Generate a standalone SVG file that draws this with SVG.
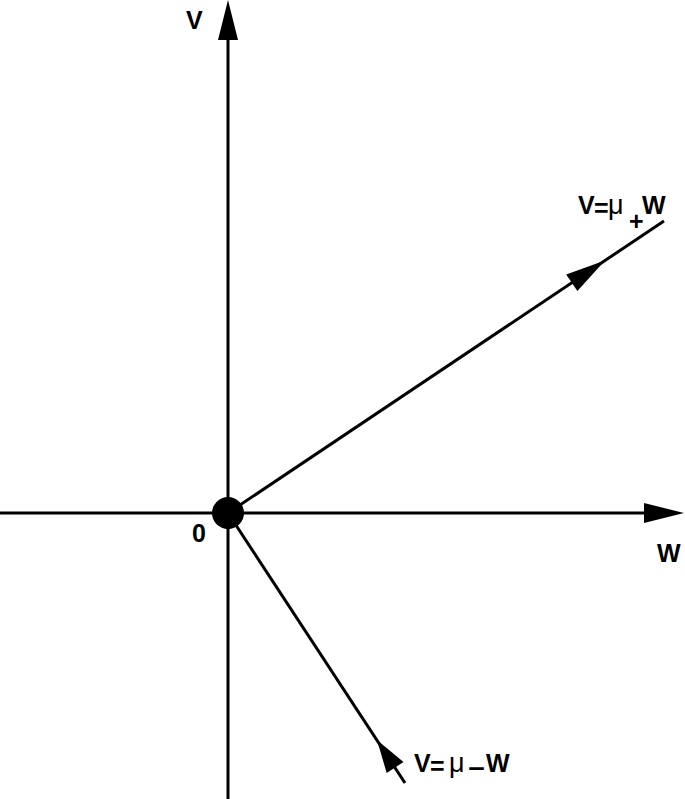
<svg xmlns="http://www.w3.org/2000/svg" width="685" height="799" viewBox="0 0 685 799">
<style>
.ln{stroke:#000;stroke-width:3;fill:none}
.ah{fill:#000;stroke:none}
.lb{font-family:"Liberation Sans",Arial,sans-serif;font-weight:bold;font-size:25px;fill:#000}
.mu{font-family:"Liberation Sans",Arial,sans-serif;font-weight:normal;font-size:27px;fill:#000}
</style>
<rect width="685" height="799" fill="#fff"/>
<g id="connectors">
<line class="ln" x1="228" y1="799" x2="228" y2="30"/>
<polygon class="ah" points="228,0 218,40 238,40"/>
<line class="ln" x1="0" y1="513" x2="650" y2="513"/>
<polygon class="ah" points="684,513 644,503 644,523"/>
<line class="ln" x1="228" y1="513" x2="664" y2="221"/>
<polygon class="ah" points="605,260.5 577.4,291 566.2,274.4"/>
<line class="ln" x1="228" y1="513" x2="405" y2="783"/>
<polygon class="ah" points="377,740 403.5,762.1 386.7,773.1"/>
</g>
<g id="origin">
<circle cx="228" cy="513" r="16" fill="#000"/>
<text class="lb" x="192" y="542">0</text>
</g>
<g id="axis-v">
<text class="lb" x="186" y="29">V</text>
</g>
<g id="axis-w">
<text class="lb" x="657" y="562">W</text>
</g>
<g id="label-plus">
<text class="lb" x="578" y="214">V</text>
<text class="lb" x="594" y="217">=</text>
<text class="mu" x="608" y="214">μ</text>
<text class="lb" x="629" y="230">+</text>
<text class="lb" x="642" y="214">W</text>
</g>
<g id="label-minus">
<text class="lb" x="414" y="772">V</text>
<text class="lb" x="430" y="775">=</text>
<text class="mu" x="449" y="772">μ</text>
<text class="lb" x="468" y="777" font-size="28" textLength="17" lengthAdjust="spacingAndGlyphs">−</text>
<text class="lb" x="486" y="772">W</text>
</g>
</svg>
